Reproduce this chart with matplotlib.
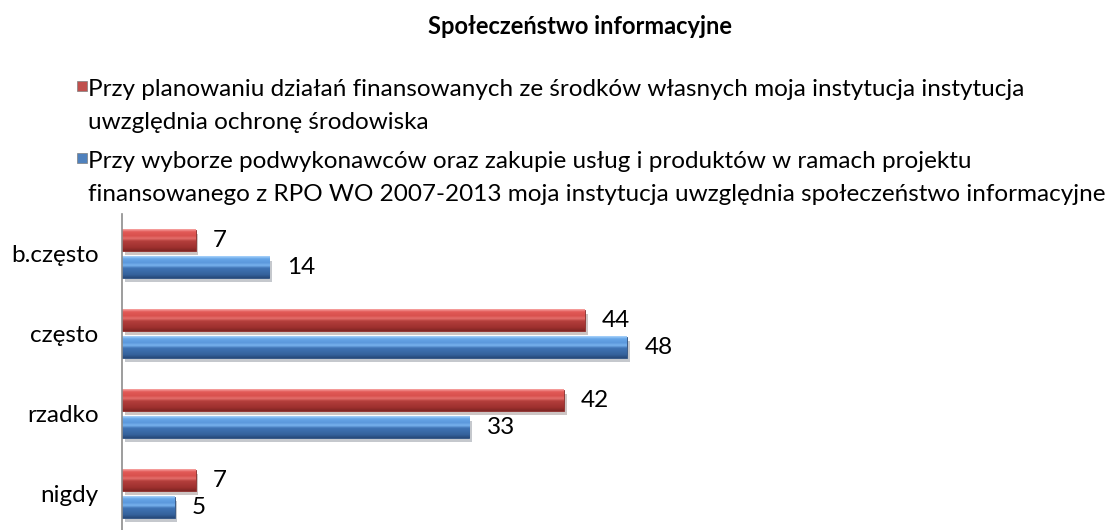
import numpy as np
import matplotlib
matplotlib.use("Agg")
import matplotlib.pyplot as plt
import matplotlib.patheffects as pe
from matplotlib.colors import LinearSegmentedColormap

plt.rcParams['font.family'] = ['Lato', 'DejaVu Sans']

categories = ['b.często', 'często', 'rzadko', 'nigdy']
vals_env = [7, 44, 42, 7]      # red series
vals_info = [14, 48, 33, 5]    # blue series

title = 'Społeczeństwo informacyjne'
legend_env = ['Przy planowaniu działań finansowanych ze środków własnych moja instytucja instytucja',
              'uwzględnia ochronę środowiska']
legend_info = ['Przy wyborze podwykonawców oraz zakupie usług i produktów w ramach projektu',
               'finansowanego z RPO WO 2007-2013 moja instytucja uwzględnia społeczeństwo informacyjne']

red_stops = ['#f7a5a3', '#e25a57', '#d8504d', '#e46e6b', '#b33e3b', '#9d302e', '#7e2523']
blue_stops = ['#a9d3fb', '#66a6e8', '#5b98dc', '#78b3ee', '#3f73b4', '#35629c', '#27497a']
pos = [0.0, 0.12, 0.3, 0.42, 0.55, 0.85, 1.0]

W, H = 1106, 530
FS = 17.5

fig = plt.figure(figsize=(W / 100, H / 100), dpi=100)
ax = fig.add_axes([122 / W, -4 / H, 0.856, 320 / H])

y = np.arange(len(categories))
h = 0.27
off = 0.169

shadow = [pe.SimplePatchShadow(offset=(2, -3), alpha=0.25), pe.Normal()]
bars_r = ax.barh(y - off, vals_env, height=h, color='#c0504d', edgecolor='#8a2b29', linewidth=0.6,
                 path_effects=shadow)
bars_b = ax.barh(y + off, vals_info, height=h, color='#4f81bd', edgecolor='#2c4f7e', linewidth=0.6,
                 path_effects=shadow)

# gradient fill on top of the bars
grad = np.linspace(0, 1, 64).reshape(-1, 1)
for bars, stops in [(bars_r, red_stops), (bars_b, blue_stops)]:
    cmap = LinearSegmentedColormap.from_list('g', list(zip(pos, stops)))
    for p in bars:
        x0, y0, w, hh = p.get_x(), p.get_y(), p.get_width(), p.get_height()
        ax.imshow(grad, cmap=cmap, aspect='auto', origin='upper',
                  extent=[x0, x0 + w, y0 + hh, y0], zorder=2.5, interpolation='bilinear')

for bars, vals in [(bars_r, vals_env), (bars_b, vals_info)]:
    for p, v in zip(bars, vals):
        ax.text(p.get_width() + 1.65, p.get_y() + p.get_height() / 2, str(v),
                va='center', ha='left', fontsize=FS, color='black')

ax.set_xlim(0, 90)
ax.set_ylim(3.5, -0.5)
ax.set_yticks(y)
ax.set_yticklabels(categories, fontsize=FS)
ax.tick_params(axis='y', length=0, pad=17)
ax.set_xticks([])
for s in ['top', 'right', 'bottom']:
    ax.spines[s].set_visible(False)
ax.spines['left'].set_color('#8c8c8c')
ax.spines['left'].set_linewidth(1.2)

fig.text(580 / W, 1 - 34 / H, title, ha='center', va='baseline', fontsize=17, fontweight='bold')

# legend entries
for base, col, lines in [(96, '#c0504d', legend_env), (168, '#4f81bd', legend_info)]:
    fig.patches.append(plt.Rectangle((77 / W, 1 - (base - 5) / H), 10 / W, 10 / H,
                                     transform=fig.transFigure, facecolor=col, edgecolor='#7f7f7f',
                                     linewidth=0.5))
    for i, line in enumerate(lines):
        fig.text(88 / W, 1 - (base + 33 * i) / H, line, ha='left', va='baseline', fontsize=FS)

fig.savefig('out.png', dpi=100)
